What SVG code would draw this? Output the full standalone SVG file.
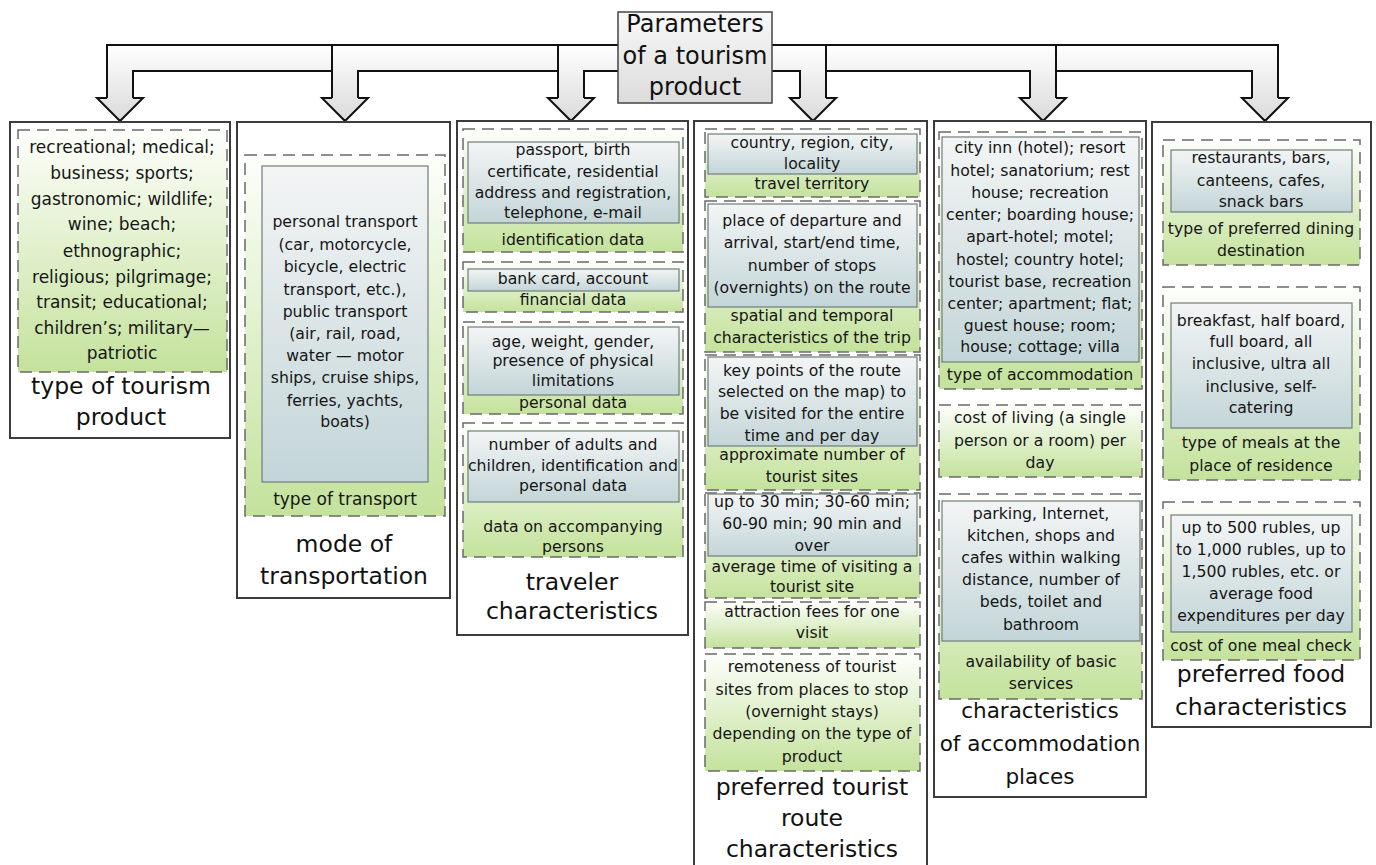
<svg xmlns="http://www.w3.org/2000/svg" width="1376" height="865" viewBox="0 0 1376 865">
<defs>
<linearGradient id="gGreen" x1="0" y1="0" x2="0" y2="1"><stop offset="0" stop-color="#fdfefb"/><stop offset="1" stop-color="#c4e29c"/></linearGradient>
<linearGradient id="gBlue" x1="0" y1="0" x2="0" y2="1"><stop offset="0" stop-color="#f3f5f5"/><stop offset="1" stop-color="#c3d5d8"/></linearGradient>
<linearGradient id="gHead" x1="0" y1="0" x2="0" y2="1"><stop offset="0" stop-color="#f8f8f8"/><stop offset="1" stop-color="#dcdcdc"/></linearGradient>
<linearGradient id="gArrow" gradientUnits="userSpaceOnUse" x1="0" y1="45" x2="0" y2="121"><stop offset="0" stop-color="#ffffff"/><stop offset="1" stop-color="#dadada"/></linearGradient>
</defs>
<style>
.col{fill:#fff;stroke:#3c3c3c;stroke-width:2}
.dash{fill:url(#gGreen);stroke:#6a6a6a;stroke-width:1.5;stroke-dasharray:12 7}
.blue{fill:url(#gBlue);stroke:#707c7c;stroke-width:1.2}
.ln{fill:none;stroke:#111;stroke-width:2;stroke-linejoin:miter}
text{font-family:'DejaVu Sans',sans-serif;fill:#161616;text-anchor:middle}
.t{font-size:15.7px}
.t1{font-size:17px}
.ttl{font-size:23.5px;fill:#111}
.ttl2{font-size:21.5px;fill:#111}
.hd{font-size:24px;fill:#111}
</style>

<g id="connectors">
<path fill="url(#gArrow)" d="M107,45 H618 V71 H584 V98 H594 L571,121 L548,98 H558 V71 H358 V98 H368 L345,121 L322,98 H332 V71 H133 V98 H143 L120,121 L97,98 H107 Z"/>
<path fill="url(#gArrow)" d="M772,45 H1278 V98 H1288 L1265,121 L1242,98 H1252 V71 H1056 V98 H1066 L1043,121 L1020,98 H1030 V71 H826 V98 H836 L813,121 L790,98 H800 V71 H772 Z"/>
<path class="ln" d="M107,98 V45 H618 M332,45 V98 M558,45 V98 M133,98 V71 H332 M358,98 V71 H558 M584,98 V71 H618"/>
<path class="ln" d="M1278,98 V45 H772 M1056,45 V98 M826,45 V98 M772,71 H800 V98 M826,71 H1030 V98 M1056,71 H1252 V98"/>
<path class="ln" d="M107,98 H97 L120,121 L143,98 H133 M332,98 H322 L345,121 L368,98 H358 M558,98 H548 L571,121 L594,98 H584 M800,98 H790 L813,121 L836,98 H826 M1030,98 H1020 L1043,121 L1066,98 H1056 M1252,98 H1242 L1265,121 L1288,98 H1278"/>
</g>

<g id="root">
<rect x="618" y="12" width="154" height="91" fill="url(#gHead)" stroke="#444" stroke-width="1.5"/>
<text class="hd" x="695" y="32">Parameters</text>
<text class="hd" x="695" y="64">of a tourism</text>
<text class="hd" x="695" y="95">product</text>
</g>

<g id="col1">
<rect class="col" x="10" y="122" width="220" height="316"/>
<rect class="dash" x="18" y="130" width="209" height="242"/>
<text class="t1" x="122" y="153">recreational; medical;</text>
<text class="t1" x="122" y="179">business; sports;</text>
<text class="t1" x="122" y="205">gastronomic; wildlife;</text>
<text class="t1" x="122" y="230">wine; beach;</text>
<text class="t1" x="122" y="257">ethnographic;</text>
<text class="t1" x="122" y="283">religious; pilgrimage;</text>
<text class="t1" x="122" y="308">transit; educational;</text>
<text class="t1" x="122" y="334">children’s; military—</text>
<text class="t1" x="122" y="359">patriotic</text>
<text class="ttl" x="121" y="394">type of tourism</text>
<text class="ttl" x="121" y="425">product</text>
</g>

<g id="col2">
<rect class="col" x="237" y="122" width="213" height="476"/>
<rect class="dash" x="245" y="155" width="200" height="361"/>
<rect class="blue" x="262" y="166" width="166" height="316"/>
<text class="t" x="345" y="227">personal transport</text>
<text class="t" x="345" y="250">(car, motorcycle,</text>
<text class="t" x="345" y="272">bicycle, electric</text>
<text class="t" x="345" y="295">transport, etc.),</text>
<text class="t" x="345" y="317">public transport</text>
<text class="t" x="345" y="339">(air, rail, road,</text>
<text class="t" x="345" y="361">water — motor</text>
<text class="t" x="345" y="383">ships, cruise ships,</text>
<text class="t" x="345" y="406">ferries, yachts,</text>
<text class="t" x="345" y="427">boats)</text>
<text class="t1" x="345" y="505">type of transport</text>
<text class="ttl" x="344" y="552">mode of</text>
<text class="ttl" x="344" y="584">transportation</text>
</g>

<g id="col3">
<rect class="col" x="457" y="121" width="231" height="514"/>
<rect class="dash" x="463" y="129" width="220" height="123"/>
<rect class="blue" x="468" y="142" width="211" height="81"/>
<text class="t" x="573" y="155">passport, birth</text>
<text class="t" x="573" y="177">certificate, residential</text>
<text class="t" x="573" y="198">address and registration,</text>
<text class="t" x="573" y="218">telephone, e-mail</text>
<text class="t" x="573" y="245">identification data</text>
<rect class="dash" x="463" y="262" width="220" height="50"/>
<rect class="blue" x="468" y="269" width="211" height="22"/>
<text class="t" x="573" y="284">bank card, account</text>
<text class="t" x="573" y="305">financial data</text>
<rect class="dash" x="463" y="322" width="220" height="92"/>
<rect class="blue" x="468" y="327" width="211" height="68"/>
<text class="t" x="573" y="347">age, weight, gender,</text>
<text class="t" x="573" y="366">presence of physical</text>
<text class="t" x="573" y="386">limitations</text>
<text class="t" x="573" y="408">personal data</text>
<rect class="dash" x="463" y="423" width="220" height="134"/>
<rect class="blue" x="468" y="431" width="211" height="71"/>
<text class="t" x="573" y="450">number of adults and</text>
<text class="t" x="573" y="471">children, identification and</text>
<text class="t" x="573" y="491">personal data</text>
<text class="t" x="573" y="532">data on accompanying</text>
<text class="t" x="573" y="552">persons</text>
<text class="ttl" x="572" y="590">traveler</text>
<text class="ttl" x="572" y="619">characteristics</text>
</g>

<g id="col4">
<rect class="col" x="694" y="121" width="233" height="752"/>
<rect class="dash" x="705" y="129" width="215" height="68"/>
<rect class="blue" x="708" y="134" width="209" height="40"/>
<text class="t" x="812" y="148">country, region, city,</text>
<text class="t" x="812" y="169">locality</text>
<text class="t" x="812" y="189">travel territory</text>
<rect class="dash" x="705" y="201" width="215" height="151"/>
<rect class="blue" x="708" y="204" width="209" height="103"/>
<text class="t" x="812" y="226">place of departure and</text>
<text class="t" x="812" y="248">arrival, start/end time,</text>
<text class="t" x="812" y="271">number of stops</text>
<text class="t" x="812" y="293">(overnights) on the route</text>
<text class="t" x="812" y="321">spatial and temporal</text>
<text class="t" x="812" y="343">characteristics of the trip</text>
<rect class="dash" x="705" y="355" width="215" height="135"/>
<rect class="blue" x="708" y="357" width="209" height="89"/>
<text class="t" x="812" y="376">key points of the route</text>
<text class="t" x="812" y="397">selected on the map) to</text>
<text class="t" x="812" y="419">be visited for the entire</text>
<text class="t" x="812" y="441">time and per day</text>
<text class="t" x="812" y="460">approximate number of</text>
<text class="t" x="812" y="482">tourist sites</text>
<rect class="dash" x="705" y="493" width="215" height="105"/>
<rect class="blue" x="708" y="494" width="209" height="62"/>
<text class="t" x="812" y="507">up to 30 min; 30-60 min;</text>
<text class="t" x="812" y="529">60-90 min; 90 min and</text>
<text class="t" x="812" y="551">over</text>
<text class="t" x="812" y="572">average time of visiting a</text>
<text class="t" x="812" y="592">tourist site</text>
<rect class="dash" x="705" y="602" width="215" height="46"/>
<text class="t" x="812" y="617">attraction fees for one</text>
<text class="t" x="812" y="638">visit</text>
<rect class="dash" x="705" y="654" width="215" height="117"/>
<text class="t" x="812" y="672">remoteness of tourist</text>
<text class="t" x="812" y="695">sites from places to stop</text>
<text class="t" x="812" y="717">(overnight stays)</text>
<text class="t" x="812" y="739">depending on the type of</text>
<text class="t" x="812" y="762">product</text>
<text class="ttl" x="812" y="795">preferred tourist</text>
<text class="ttl" x="812" y="826">route</text>
<text class="ttl" x="812" y="857">characteristics</text>
</g>

<g id="col5">
<rect class="col" x="934" y="121" width="212" height="676"/>
<rect class="dash" x="939" y="132" width="203" height="257"/>
<rect class="blue" x="942" y="137" width="197" height="225"/>
<text class="t" x="1040" y="153">city inn (hotel); resort</text>
<text class="t" x="1040" y="176">hotel; sanatorium; rest</text>
<text class="t" x="1040" y="198">house; recreation</text>
<text class="t" x="1040" y="220">center; boarding house;</text>
<text class="t" x="1040" y="242">apart-hotel; motel;</text>
<text class="t" x="1040" y="265">hostel; country hotel;</text>
<text class="t" x="1040" y="287">tourist base, recreation</text>
<text class="t" x="1040" y="309">center; apartment; flat;</text>
<text class="t" x="1040" y="331">guest house; room;</text>
<text class="t" x="1040" y="352">house; cottage; villa</text>
<text class="t" x="1040" y="380">type of accommodation</text>
<rect class="dash" x="939" y="405" width="203" height="72"/>
<text class="t" x="1040" y="423">cost of living (a single</text>
<text class="t" x="1040" y="446">person or a room) per</text>
<text class="t" x="1040" y="468">day</text>
<rect class="dash" x="939" y="494" width="203" height="205"/>
<rect class="blue" x="942" y="501" width="198" height="140"/>
<text class="t" x="1041" y="519">parking, Internet,</text>
<text class="t" x="1041" y="541">kitchen, shops and</text>
<text class="t" x="1041" y="563">cafes within walking</text>
<text class="t" x="1041" y="585">distance, number of</text>
<text class="t" x="1041" y="607">beds, toilet and</text>
<text class="t" x="1041" y="630">bathroom</text>
<text class="t" x="1041" y="667">availability of basic</text>
<text class="t" x="1041" y="689">services</text>
<text class="ttl2" x="1040" y="718">characteristics</text>
<text class="ttl2" x="1040" y="751">of accommodation</text>
<text class="ttl2" x="1040" y="784">places</text>
</g>

<g id="col6">
<rect class="col" x="1152" y="122" width="219" height="605"/>
<rect class="dash" x="1163" y="140" width="197" height="125"/>
<rect class="blue" x="1171" y="150" width="181" height="62"/>
<text class="t" x="1261" y="163">restaurants, bars,</text>
<text class="t" x="1261" y="186">canteens, cafes,</text>
<text class="t" x="1261" y="207">snack bars</text>
<text class="t" x="1261" y="234">type of preferred dining</text>
<text class="t" x="1261" y="256">destination</text>
<rect class="dash" x="1163" y="287" width="197" height="193"/>
<rect class="blue" x="1171" y="303" width="181" height="125"/>
<text class="t" x="1261" y="326">breakfast, half board,</text>
<text class="t" x="1261" y="347">full board, all</text>
<text class="t" x="1261" y="369">inclusive, ultra all</text>
<text class="t" x="1261" y="392">inclusive, self-</text>
<text class="t" x="1261" y="413">catering</text>
<text class="t" x="1261" y="448">type of meals at the</text>
<text class="t" x="1261" y="471">place of residence</text>
<rect class="dash" x="1163" y="502" width="197" height="158"/>
<rect class="blue" x="1171" y="515" width="181" height="117"/>
<text class="t" x="1261" y="533">up to 500 rubles, up</text>
<text class="t" x="1261" y="555">to 1,000 rubles, up to</text>
<text class="t" x="1261" y="577">1,500 rubles, etc. or</text>
<text class="t" x="1261" y="599">average food</text>
<text class="t" x="1261" y="621">expenditures per day</text>
<text class="t" x="1261" y="651">cost of one meal check</text>
<text class="ttl" x="1261" y="682">preferred food</text>
<text class="ttl" x="1261" y="715">characteristics</text>
</g>
</svg>
